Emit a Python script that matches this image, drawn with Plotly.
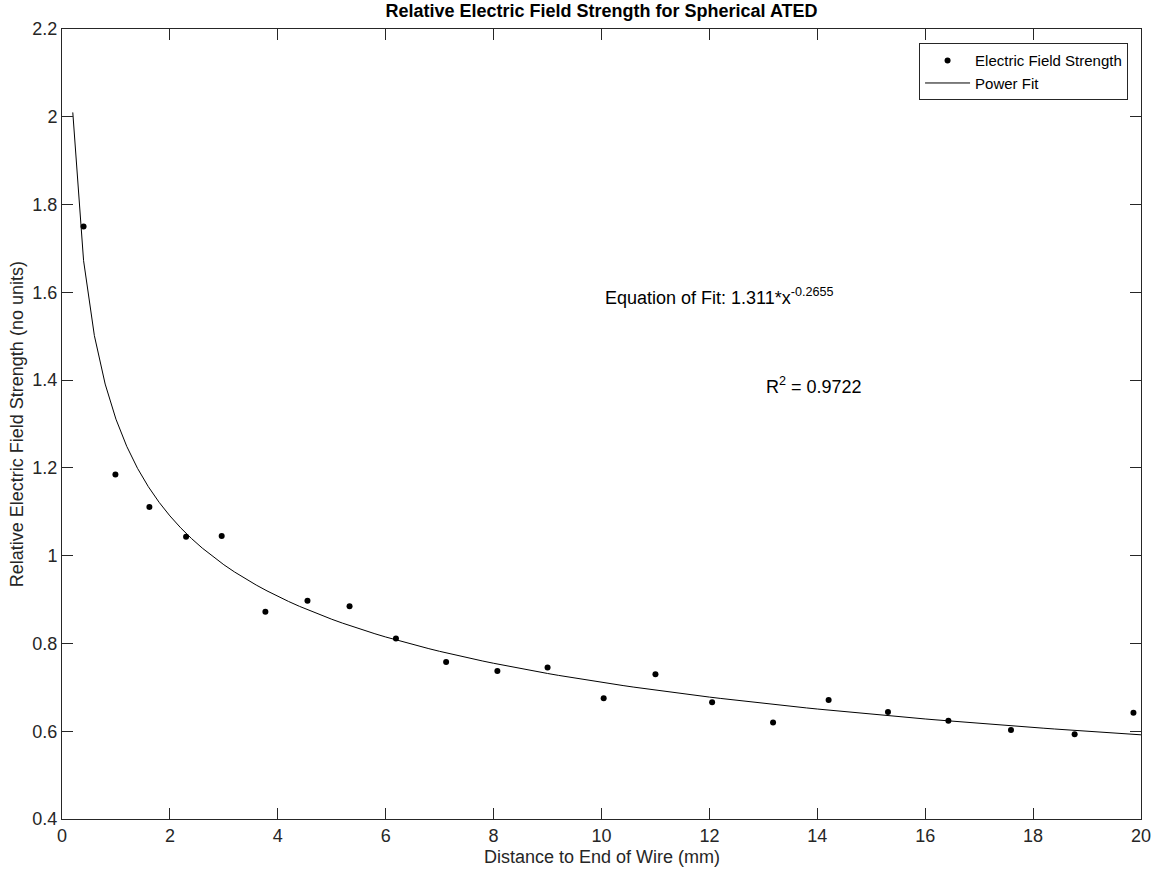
import numpy as np
import plotly.graph_objects as go

# Measured relative field strength vs. distance to the wire end
distance_mm = [0.40, 0.99, 1.62, 2.30, 2.96, 3.77, 4.55, 5.33, 6.19, 7.12, 8.07,
               9.00, 10.04, 11.00, 12.05, 13.18, 14.21, 15.31, 16.43, 17.59, 18.77, 19.86]
field_strength = [1.750, 1.185, 1.111, 1.043, 1.045, 0.872, 0.897, 0.885, 0.811, 0.758, 0.737,
                  0.745, 0.675, 0.730, 0.666, 0.620, 0.671, 0.644, 0.624, 0.603, 0.593, 0.642]

# Power fit coefficients: y = a * x^b
fit_a = 1.311
fit_b = -0.2655
r_squared = 0.9722

x_ticks = [0, 2, 4, 6, 8, 10, 12, 14, 16, 18, 20]
x_tick_text = ["0", "2", "4", "6", "8", "10", "12", "14", "16", "18", "20"]
y_ticks = [0.4, 0.6, 0.8, 1.0, 1.2, 1.4, 1.6, 1.8, 2.0, 2.2]
y_tick_text = ["0.4", "0.6", "0.8", "1", "1.2", "1.4", "1.6", "1.8", "2", "2.2"]

fit_x = np.linspace(0.2, 20, 100)
fit_y = fit_a * fit_x ** fit_b

FONT = "Liberation Sans, Arial, sans-serif"
AXIS_COLOR = "#262626"

fig = go.Figure()
fig.add_trace(go.Scatter(
    x=distance_mm, y=field_strength, mode="markers",
    name="Electric Field Strength",
    marker=dict(color="black", size=6),
))
fig.add_trace(go.Scatter(
    x=fit_x, y=fit_y, mode="lines", name="Power Fit",
    line=dict(color="black", width=1),
))

axis_common = dict(
    showline=True, linecolor=AXIS_COLOR, linewidth=1, mirror="ticks",
    ticks="inside", ticklen=11, tickcolor=AXIS_COLOR, tickwidth=1,
    showgrid=False, zeroline=False, automargin=False,
    tickfont=dict(family=FONT, size=18, color=AXIS_COLOR),
)

fig.update_xaxes(range=[0, 20], tickvals=x_ticks, ticktext=x_tick_text, **axis_common)
fig.update_yaxes(range=[0.4, 2.2], tickvals=y_ticks, ticktext=y_tick_text, **axis_common)

# Axis titles, placed close to the tick labels
fig.add_annotation(
    x=0.5, y=-0.048, xref="paper", yref="paper", xanchor="center", yanchor="middle",
    text="Distance to End of Wire (mm)", showarrow=False,
    font=dict(family=FONT, size=18, color=AXIS_COLOR),
)
fig.add_annotation(
    x=-0.0415, y=0.5, xref="paper", yref="paper", xanchor="center", yanchor="middle",
    text="Relative Electric Field Strength (no units)", showarrow=False, textangle=-90,
    font=dict(family=FONT, size=18, color=AXIS_COLOR),
)

fig.add_annotation(
    x=10.02, y=1.59, xref="x", yref="y", xanchor="left", yanchor="middle",
    text=f"Equation of Fit: {fit_a}*x<sup>{fit_b}</sup>", showarrow=False,
    font=dict(family=FONT, size=18, color="black"),
)
fig.add_annotation(
    x=13.02, y=1.387, xref="x", yref="y", xanchor="left", yanchor="middle",
    text=f"R<sup>2</sup> = {r_squared}", showarrow=False,
    font=dict(family=FONT, size=18, color="black"),
)

fig.update_layout(
    width=1161, height=871,
    margin=dict(l=62, r=20, t=29, b=52),
    paper_bgcolor="white", plot_bgcolor="white",
    title=dict(text="<b>Relative Electric Field Strength for Spherical ATED</b>",
               x=0.5, xref="paper", y=1, yref="container", yanchor="top", pad=dict(t=4),
               font=dict(family=FONT, size=18, color="black")),
    legend=dict(
        x=0.988, y=0.982, xanchor="right", yanchor="top",
        bgcolor="white", bordercolor=AXIS_COLOR, borderwidth=1,
        font=dict(family=FONT, size=15, color="black"),
        itemwidth=45, tracegroupgap=0,
    ),
    showlegend=True,
)

fig.write_html("out.html")
